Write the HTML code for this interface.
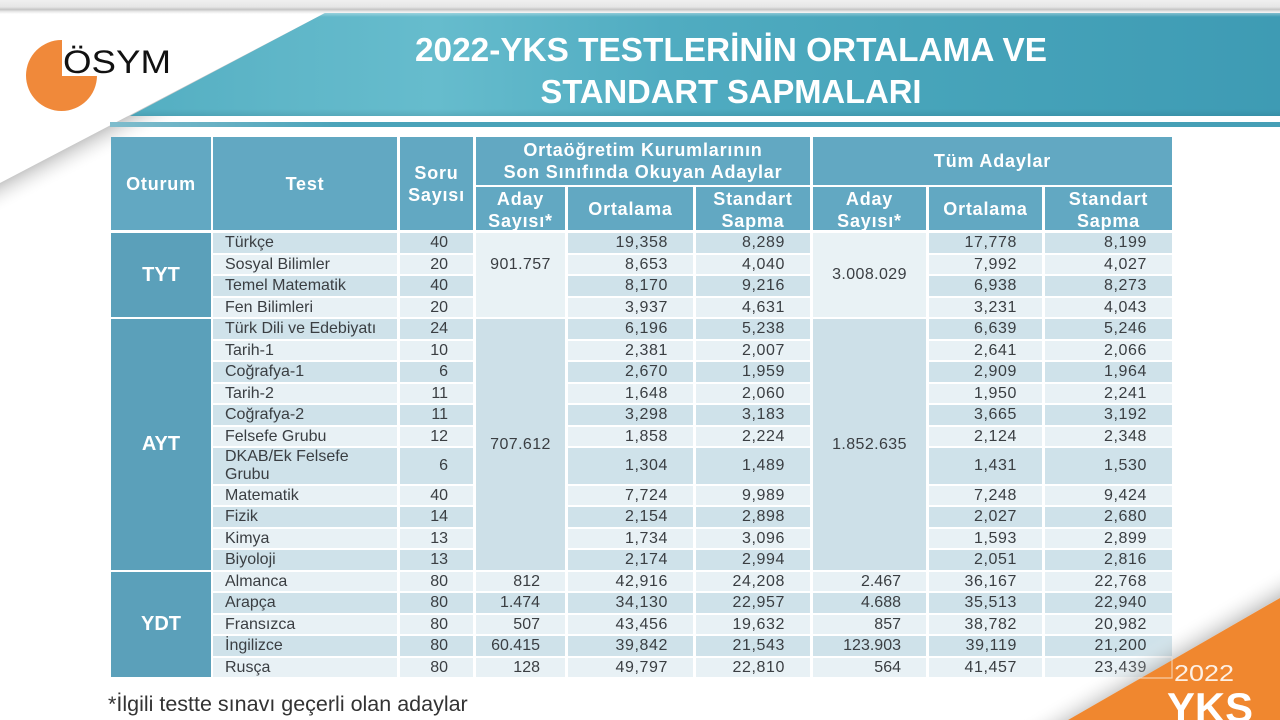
<!DOCTYPE html>
<html><head><meta charset="utf-8">
<style>
*{margin:0;padding:0;box-sizing:border-box}
html,body{width:1280px;height:720px;overflow:hidden;background:#fff}
body{position:relative;font-family:"Liberation Sans",Arial,sans-serif}
.abs{position:absolute}
.h{position:absolute;background:#62a8c2;color:#fff;font-weight:bold;font-size:18px;letter-spacing:.8px;display:flex;align-items:center;justify-content:center;text-align:center;line-height:22px}
.ot{position:absolute;left:111px;width:100px;background:#5ba0ba;color:#fff;font-weight:bold;font-size:20px;display:flex;align-items:center;justify-content:center}
.r{position:absolute;left:0;width:1280px;height:19.8px}
.r>div{position:absolute;top:0;height:100%;line-height:20px;font-size:16px;color:#3a3e42;white-space:nowrap;text-align:right;padding-right:25px}
.k>div{background:#cfe2ea}
.l>div{background:#e8f1f5}
.t{left:213px;width:184px;text-align:left!important;padding-left:12px;padding-right:0!important}
.s{left:400px;width:73px}
.a1{left:476px;width:89px}
.o1{left:568px;width:125px;letter-spacing:.6px}
.d1{left:696px;width:114px;letter-spacing:.6px}
.a2{left:813px;width:113px}
.o2{left:929px;width:113px;letter-spacing:.6px}
.d2{left:1045px;width:127px;letter-spacing:.6px}
.m{position:absolute;font-size:16px;color:#3a3e42;text-align:center;letter-spacing:.4px}
.dk>div{line-height:36px}
.dk>.t{line-height:18px;padding-top:0}
</style></head><body>

<!-- top strip -->
<div class="abs" style="left:0;top:0;width:1280px;height:14px;background:linear-gradient(#f0f0f0 0,#e6e6e6 7px,#c4c4c4 9.5px,#e8e8e8 11.5px,#fff 14px)"></div>

<!-- diagonal shadow -->
<svg class="abs" style="left:0;top:0" width="1280" height="720" viewBox="0 0 1280 720">
<defs>
<linearGradient id="sh1" gradientUnits="userSpaceOnUse" x1="162.5" y1="98" x2="175" y2="122">
<stop offset="0" stop-color="#8f8f8f" stop-opacity="0.5"/>
<stop offset="1" stop-color="#ffffff" stop-opacity="0"/>
</linearGradient>
</defs>
<polygon points="325,13 0,183 0,320 520,13" fill="url(#sh1)"/>
</svg>

<!-- banner -->
<div class="abs" style="left:0;top:13px;width:1280px;height:103px;clip-path:polygon(325px 0,1280px 0,1280px 103px,130px 103px);background:linear-gradient(180deg,rgba(255,255,255,.35) 0,rgba(255,255,255,0) 4px,rgba(0,0,0,0) 96px,rgba(0,60,80,.12) 103px),linear-gradient(90deg,#49a7bc 0%,#5fb6c8 22%,#66bccd 34%,#50acc1 52%,#47a4ba 72%,#3e9bb4 100%)"></div>
<div class="abs" style="left:110px;top:122px;width:1170px;height:4.5px;background:linear-gradient(90deg,#7fbccc,#4aa3b9 20%,#469fb6)"></div>

<!-- logo + title -->
<svg class="abs" style="left:0;top:0" width="1280" height="140" viewBox="0 0 1280 140">
<circle cx="61.5" cy="75.5" r="35.5" fill="#f0893a"/>
<rect x="62" y="36" width="42" height="40" fill="#fff"/>
<text x="63" y="73" font-family="Liberation Sans, Arial, sans-serif" font-size="32" fill="#111" textLength="108" lengthAdjust="spacingAndGlyphs">ÖSYM</text>
<text x="731" y="61" text-anchor="middle" font-family="Liberation Sans, Arial, sans-serif" font-size="33" font-weight="bold" fill="#fff" textLength="632" lengthAdjust="spacingAndGlyphs">2022-YKS TESTLERİNİN ORTALAMA VE</text>
<text x="731" y="103" text-anchor="middle" font-family="Liberation Sans, Arial, sans-serif" font-size="33" font-weight="bold" fill="#fff" textLength="381" lengthAdjust="spacingAndGlyphs">STANDART SAPMALARI</text>
</svg>

<!-- header -->
<div class="h" style="left:111px;top:137px;width:100px;height:93px">Oturum</div>
<div class="h" style="left:213px;top:137px;width:184px;height:93px">Test</div>
<div class="h" style="left:400px;top:137px;width:73px;height:93px">Soru<br>Sayısı</div>
<div class="h" style="left:476px;top:137px;width:334px;height:48px">Ortaöğretim Kurumlarının<br>Son Sınıfında Okuyan Adaylar</div>
<div class="h" style="left:813px;top:137px;width:359px;height:48px">Tüm Adaylar</div>
<div class="h" style="left:476px;top:187px;width:89px;height:43px;padding-top:2px">Aday<br>Sayısı*</div>
<div class="h" style="left:568px;top:187px;width:125px;height:43px">Ortalama</div>
<div class="h" style="left:696px;top:187px;width:114px;height:43px;padding-top:2px">Standart<br>Sapma</div>
<div class="h" style="left:813px;top:187px;width:113px;height:43px;padding-top:2px">Aday<br>Sayısı*</div>
<div class="h" style="left:929px;top:187px;width:113px;height:43px">Ortalama</div>
<div class="h" style="left:1045px;top:187px;width:127px;height:43px;padding-top:2px">Standart<br>Sapma</div>

<!-- oturum cells -->
<div class="ot" style="top:233px;height:84.3px">TYT</div>
<div class="ot" style="top:319px;height:250.8px">AYT</div>
<div class="ot" style="top:571.5px;height:105.8px">YDT</div>

<!-- merged aday cells -->
<div class="m" style="left:476px;top:233px;width:89px;height:84.3px;background:#e9f2f5;padding-top:23px">901.757</div>
<div class="m" style="left:813px;top:233px;width:113px;height:84.3px;background:#e9f2f5;padding-top:33px">3.008.029</div>
<div class="m" style="left:476px;top:319px;width:89px;height:250.8px;background:#cde0e8;padding-top:117px">707.612</div>
<div class="m" style="left:813px;top:319px;width:113px;height:250.8px;background:#cde0e8;padding-top:117px">1.852.635</div>

<!-- rows -->
<div class="r k" style="top:233px"><div class="t">Türkçe</div><div class="s">40</div><div class="o1">19,358</div><div class="d1">8,289</div><div class="o2">17,778</div><div class="d2">8,199</div></div>
<div class="r l" style="top:254.5px"><div class="t">Sosyal Bilimler</div><div class="s">20</div><div class="o1">8,653</div><div class="d1">4,040</div><div class="o2">7,992</div><div class="d2">4,027</div></div>
<div class="r k" style="top:276px"><div class="t">Temel Matematik</div><div class="s">40</div><div class="o1">8,170</div><div class="d1">9,216</div><div class="o2">6,938</div><div class="d2">8,273</div></div>
<div class="r l" style="top:297.5px"><div class="t">Fen Bilimleri</div><div class="s">20</div><div class="o1">3,937</div><div class="d1">4,631</div><div class="o2">3,231</div><div class="d2">4,043</div></div>
<div class="r k" style="top:319px"><div class="t">Türk Dili ve Edebiyatı</div><div class="s">24</div><div class="o1">6,196</div><div class="d1">5,238</div><div class="o2">6,639</div><div class="d2">5,246</div></div>
<div class="r l" style="top:340.5px"><div class="t">Tarih-1</div><div class="s">10</div><div class="o1">2,381</div><div class="d1">2,007</div><div class="o2">2,641</div><div class="d2">2,066</div></div>
<div class="r k" style="top:362px"><div class="t">Coğrafya-1</div><div class="s">6</div><div class="o1">2,670</div><div class="d1">1,959</div><div class="o2">2,909</div><div class="d2">1,964</div></div>
<div class="r l" style="top:383.5px"><div class="t">Tarih-2</div><div class="s">11</div><div class="o1">1,648</div><div class="d1">2,060</div><div class="o2">1,950</div><div class="d2">2,241</div></div>
<div class="r k" style="top:405px"><div class="t">Coğrafya-2</div><div class="s">11</div><div class="o1">3,298</div><div class="d1">3,183</div><div class="o2">3,665</div><div class="d2">3,192</div></div>
<div class="r l" style="top:426.5px"><div class="t">Felsefe Grubu</div><div class="s">12</div><div class="o1">1,858</div><div class="d1">2,224</div><div class="o2">2,124</div><div class="d2">2,348</div></div>
<div class="r k dk" style="top:448px;height:35.8px"><div class="t">DKAB/Ek Felsefe<br>Grubu</div><div class="s">6</div><div class="o1">1,304</div><div class="d1">1,489</div><div class="o2">1,431</div><div class="d2">1,530</div></div>
<div class="r l" style="top:485.5px"><div class="t">Matematik</div><div class="s">40</div><div class="o1">7,724</div><div class="d1">9,989</div><div class="o2">7,248</div><div class="d2">9,424</div></div>
<div class="r k" style="top:507px"><div class="t">Fizik</div><div class="s">14</div><div class="o1">2,154</div><div class="d1">2,898</div><div class="o2">2,027</div><div class="d2">2,680</div></div>
<div class="r l" style="top:528.5px"><div class="t">Kimya</div><div class="s">13</div><div class="o1">1,734</div><div class="d1">3,096</div><div class="o2">1,593</div><div class="d2">2,899</div></div>
<div class="r k" style="top:550px"><div class="t">Biyoloji</div><div class="s">13</div><div class="o1">2,174</div><div class="d1">2,994</div><div class="o2">2,051</div><div class="d2">2,816</div></div>
<div class="r l" style="top:571.5px"><div class="t">Almanca</div><div class="s">80</div><div class="a1">812</div><div class="o1">42,916</div><div class="d1">24,208</div><div class="a2">2.467</div><div class="o2">36,167</div><div class="d2">22,768</div></div>
<div class="r k" style="top:593px"><div class="t">Arapça</div><div class="s">80</div><div class="a1">1.474</div><div class="o1">34,130</div><div class="d1">22,957</div><div class="a2">4.688</div><div class="o2">35,513</div><div class="d2">22,940</div></div>
<div class="r l" style="top:614.5px"><div class="t">Fransızca</div><div class="s">80</div><div class="a1">507</div><div class="o1">43,456</div><div class="d1">19,632</div><div class="a2">857</div><div class="o2">38,782</div><div class="d2">20,982</div></div>
<div class="r k" style="top:636px"><div class="t">İngilizce</div><div class="s">80</div><div class="a1">60.415</div><div class="o1">39,842</div><div class="d1">21,543</div><div class="a2">123.903</div><div class="o2">39,119</div><div class="d2">21,200</div></div>
<div class="r l" style="top:657.5px"><div class="t">Rusça</div><div class="s">80</div><div class="a1">128</div><div class="o1">49,797</div><div class="d1">22,810</div><div class="a2">564</div><div class="o2">41,457</div><div class="d2">23,439</div></div>

<!-- footnote -->
<div class="abs" style="left:108px;top:691px;font-size:21.5px;line-height:26px;color:#333;white-space:nowrap">*İlgili testte sınavı geçerli olan adaylar</div>

<!-- bottom-right orange corner -->
<svg class="abs" style="left:0;top:0" width="1280" height="720" viewBox="0 0 1280 720">
<defs>
<linearGradient id="sh2" gradientUnits="userSpaceOnUse" x1="1174" y1="659" x2="1161" y2="637">
<stop offset="0" stop-color="#8a8a8a" stop-opacity="0.4"/>
<stop offset="1" stop-color="#ffffff" stop-opacity="0"/>
</linearGradient>
</defs>
<polygon points="1068,720 1280,598 1280,520 950,720" fill="url(#sh2)"/>
<polygon points="1068,720 1280,598 1280,720" fill="#f0872f"/>
<polyline points="1172,657 1172,678 1138,678" fill="none" stroke="#f6dcc4" stroke-width="1.2" opacity="0.8"/>
<text x="1204" y="681" text-anchor="middle" font-family="Liberation Sans, Arial, sans-serif" font-size="23" fill="#fdf0e4" textLength="60" lengthAdjust="spacingAndGlyphs">2022</text>
<text x="1210" y="722" text-anchor="middle" font-family="Liberation Sans, Arial, sans-serif" font-size="42" font-weight="bold" fill="#ffffff" textLength="86" lengthAdjust="spacingAndGlyphs">YKS</text>
</svg>

</body></html>
